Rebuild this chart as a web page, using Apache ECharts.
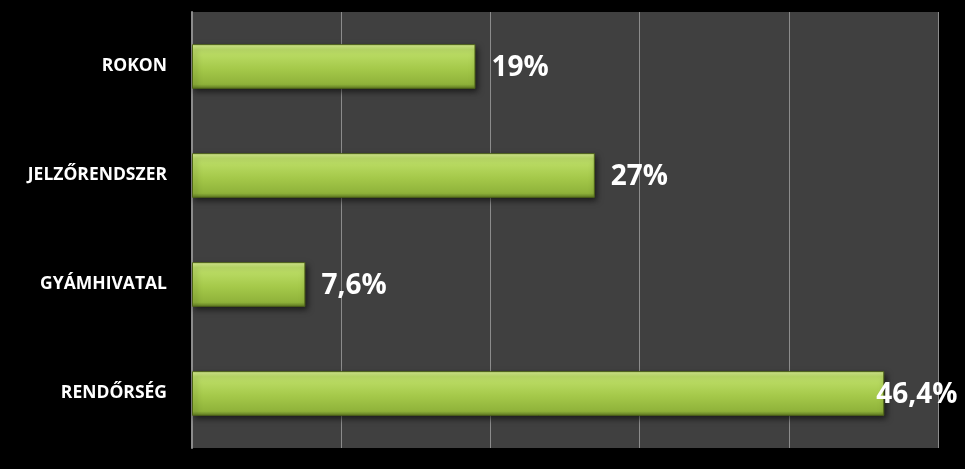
<!DOCTYPE html>
<html>
<head>
<meta charset="utf-8">
<script src="https://cdn.jsdelivr.net/npm/echarts@6/dist/echarts.min.js"></script>
<style>
html,body{margin:0;padding:0;background:#000;}
#c{width:965px;height:469px;}
</style>
</head>
<body>
<div id="c"></div>
<script>
const categories = ['RENDŐRSÉG', 'GYÁMHIVATAL', 'JELZŐRENDSZER', 'ROKON'];
const values = [46.4, 7.6, 27, 19];
const labelTexts = ['46,4%', '7,6%', '27%', '19%'];
const xTicks = [0, 10, 20, 30, 40, 50];

const chart = echarts.init(document.getElementById('c'));
const barGradient = new echarts.graphic.LinearGradient(0, 0, 0, 1, [
  {offset: 0, color: '#dcf295'},
  {offset: 0.12, color: '#bfe06a'},
  {offset: 0.55, color: '#a5c94a'},
  {offset: 0.9, color: '#8fb23a'},
  {offset: 1, color: '#5f7a22'}
]);
const data = values.map((v, i) => {
  const item = {value: v};
  if (i === 0) {
    item.label = {distance: -8};
  }
  return item;
});
chart.setOption({
  backgroundColor: '#000',
  animation: false,
  grid: {left: 192, right: 27, top: 12, bottom: 21, containLabel: false,
    show: true, backgroundColor: '#404040', borderWidth: 0},
  xAxis: {
    type: 'value', min: xTicks[0], max: xTicks[xTicks.length - 1], interval: 10,
    axisLabel: {show: false}, axisLine: {show: false}, axisTick: {show: false},
    splitLine: {show: true, lineStyle: {color: '#8c8c8c', width: 1}}
  },
  yAxis: {
    type: 'category', data: categories,
    axisLine: {show: true, lineStyle: {color: '#8c8c8c', width: 2}},
    axisTick: {show: false},
    axisLabel: {color: '#fff', fontFamily: 'Open Sans', fontWeight: 'bold', fontSize: 17.5, margin: 25}
  },
  series: [{
    type: 'bar', data: data, barWidth: '41%',
    itemStyle: {color: barGradient, borderColor: '#4f6419', borderWidth: 1,
      shadowColor: 'rgba(0,0,0,0.6)', shadowBlur: 6, shadowOffsetX: 2, shadowOffsetY: 3},
    label: {show: true, position: 'right', distance: 16, color: '#fff',
      fontFamily: 'Open Sans', fontWeight: 'bold', fontSize: 28, offset: [0, 2],
      formatter: p => labelTexts[p.dataIndex]}
  }]
});
</script>
</body>
</html>
